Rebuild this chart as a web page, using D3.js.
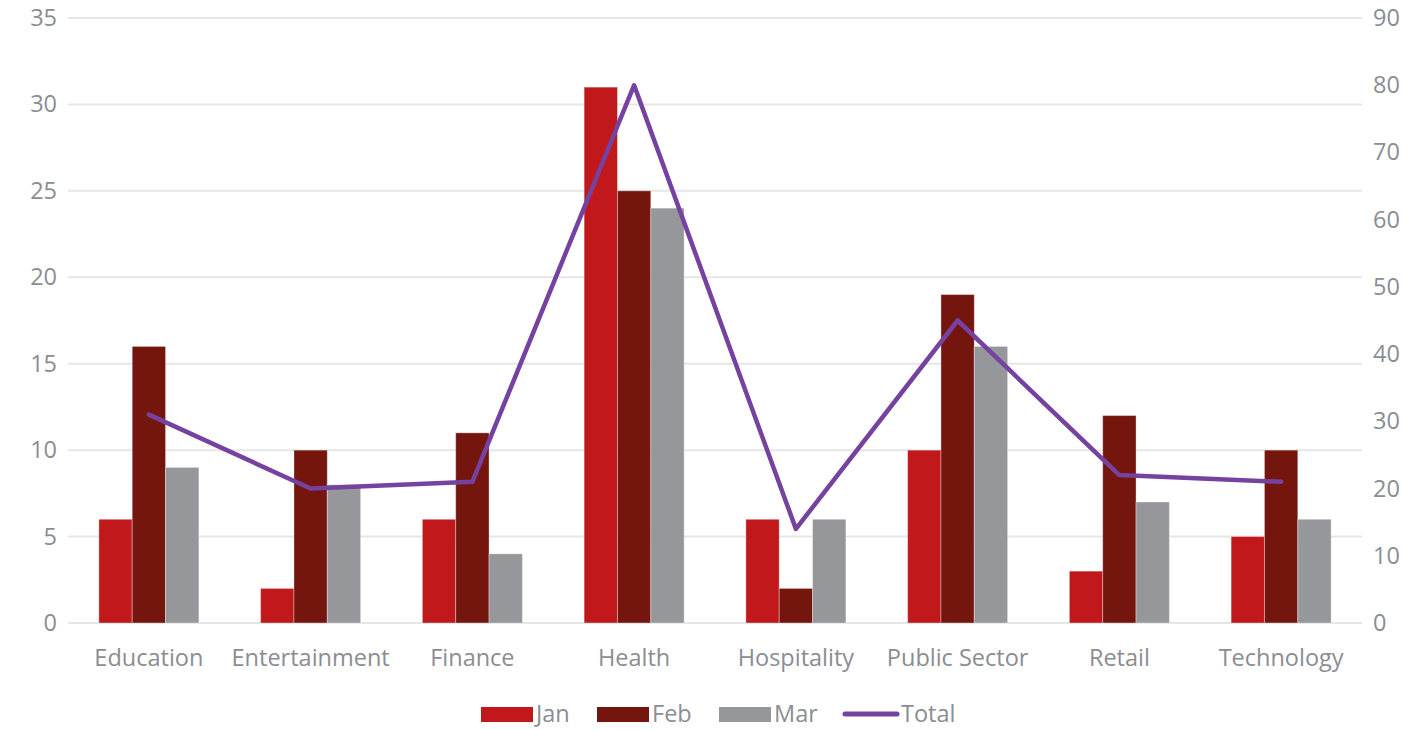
<!DOCTYPE html>
<html><head><meta charset="utf-8">
<script src="https://cdn.jsdelivr.net/npm/d3@7"></script>
<style>body{margin:0;background:#fff}text{font-family:"Open Sans",sans-serif}</style>
</head><body>
<svg id="c" width="1421" height="730"></svg>
<script>
const categories = ["Education","Entertainment","Finance","Health","Hospitality","Public Sector","Retail","Technology"];
const jan = [6,2,6,31,6,10,3,5];
const feb = [16,10,11,25,2,19,12,10];
const mar = [9,8,4,24,6,16,7,6];
const total = [31,20,21,80,14,45,22,21];
const seriesNames = ["Jan","Feb","Mar"];
const leftTicks = [0,5,10,15,20,25,30,35];
const rightTicks = [0,10,20,30,40,50,60,70,80,90];

const colors = {Jan:"#c0181b", Feb:"#74150e", Mar:"#96979b", Total:"#7542a0"};
const textColor = "#8a8d92";
const fs = "23.5px";
const svg = d3.select("#c");
const m = {l:68, r:1362, t:18, b:623};

const x = d3.scaleBand().domain(categories).range([m.l, m.r]);
const xs = d3.scaleBand().domain(seriesNames).range([0, 100]);
const yL = d3.scaleLinear().domain([0,35]).range([m.b, m.t]);
const yR = d3.scaleLinear().domain([0,90]).range([m.b, m.t]);

// grid
svg.append("g").selectAll("line").data(leftTicks).join("line")
  .attr("x1", m.l).attr("x2", m.r)
  .attr("y1", d=>yL(d)).attr("y2", d=>yL(d))
  .attr("stroke","#e6e6e6").attr("stroke-width",2);

const la = svg.append("g").attr("transform",`translate(${m.l},0)`)
  .call(d3.axisLeft(yL).tickValues(leftTicks).tickSize(0).tickPadding(11));
la.select(".domain").remove();
la.selectAll("text").attr("fill",textColor).style("font-size",fs).style("font-family","'Open Sans'");

const ra = svg.append("g").attr("transform",`translate(${m.r},0)`)
  .call(d3.axisRight(yR).tickValues(rightTicks).tickSize(0).tickPadding(11));
ra.select(".domain").remove();
ra.selectAll("text").attr("fill",textColor).style("font-size",fs).style("font-family","'Open Sans'");

const xa = svg.append("g").attr("transform",`translate(0,${m.b})`)
  .call(d3.axisBottom(x).tickSize(0).tickPadding(26));
xa.select(".domain").remove();
xa.selectAll("text").attr("fill",textColor).style("font-size",fs).style("font-family","'Open Sans'");

// bars
const data = {Jan:jan, Feb:feb, Mar:mar};
categories.forEach((c,i)=>{
  const g = svg.append("g").attr("transform",`translate(${x(c)+x.bandwidth()/2-50},0)`);
  seriesNames.forEach(s=>{
    g.append("rect").attr("x", xs(s)).attr("width", xs.bandwidth())
      .attr("y", yL(data[s][i])).attr("height", yL(0)-yL(data[s][i]))
      .attr("fill", colors[s]).attr("stroke","rgba(255,255,255,0.35)").attr("stroke-width",1);
  });
});

// line
const line = d3.line().x((d,i)=>x(categories[i])+x.bandwidth()/2).y(d=>yR(d));
svg.append("path").datum(total).attr("d", line).attr("fill","none")
  .attr("stroke", colors.Total).attr("stroke-width",4.5).attr("stroke-linejoin","round").attr("stroke-linecap","round");

// legend
const leg = [
  {n:"Jan", x:481, t:"rect"},
  {n:"Feb", x:597, t:"rect"},
  {n:"Mar", x:719, t:"rect"},
  {n:"Total", x:843, t:"line"}
];
const lg = svg.append("g");
leg.forEach(l=>{
  if(l.t==="rect"){
    lg.append("rect").attr("x",l.x).attr("y",707).attr("width",52).attr("height",15).attr("fill",colors[l.n]);
    lg.append("text").attr("x",l.x+55).attr("y",714).attr("dy","0.35em").attr("fill",textColor)
      .style("font-size",fs).text(l.n);
  } else {
    lg.append("line").attr("x1",l.x+2).attr("x2",l.x+54).attr("y1",714).attr("y2",714)
      .attr("stroke",colors[l.n]).attr("stroke-width",5).attr("stroke-linecap","round");
    lg.append("text").attr("x",l.x+58).attr("y",714).attr("dy","0.35em").attr("fill",textColor)
      .style("font-size",fs).text(l.n);
  }
});
</script>
</body></html>
